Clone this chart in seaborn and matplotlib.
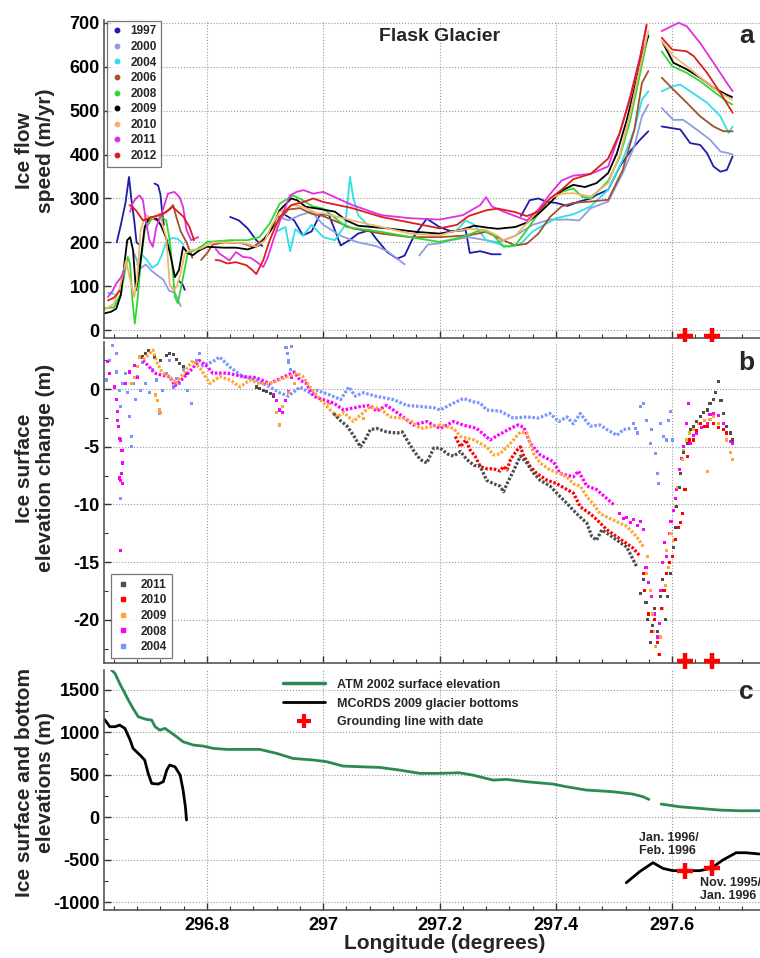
import numpy as np
import pandas as pd
import seaborn as sns
import matplotlib
matplotlib.use('Agg')
from matplotlib import pyplot as plt
from matplotlib.lines import Line2D
from matplotlib.ticker import MultipleLocator, FuncFormatter

nan = np.nan

# ---------------- panel a: ice flow speed (m/yr), NaN = gap ----------------
lon_1997 = [296.645, 296.652, 296.660, 296.666, 296.670, 296.675, 296.679, 296.684, nan,
            296.710, 296.716, 296.720, 296.723, 296.726, nan,
            296.752, 296.758, 296.762, nan,
            296.84, 296.855, 296.87, 296.885, 296.895, nan,
            296.935, 296.95, 296.965, 296.98, 296.995, 297.01, 297.02, 297.03, 297.045, 297.06, 297.08,
            297.09, 297.11, 297.127, 297.14, 297.155, 297.178, 297.20, 297.22, 297.245, 297.252, 297.27,
            297.29, 297.305, nan,
            297.34, 297.355, 297.37, 297.385, 297.40, 297.42, 297.44, 297.46, 297.47, 297.49, 297.51,
            297.53, 297.545, 297.559, nan,
            297.582, 297.60, 297.614, 297.631, 297.648, 297.66, 297.671, 297.683, 297.694, 297.704]
spd_1997 = [200, 240, 290, 349, 300, 250, 200, 195, nan,
            334, 330, 310, 270, 240, nan,
            112, 105, 92, nan,
            258, 250, 232, 205, 192, nan,
            262, 250, 216, 225, 265, 262, 228, 193, 205, 220, 228,
            210, 178, 163, 170, 212, 254, 235, 225, 228, 176, 180,
            173, 173, nan,
            260, 296, 300, 292, 290, 283, 293, 300, 308, 320, 373,
            411, 434, 453, nan,
            464, 460, 457, 426, 422, 403, 373, 361, 365, 396]

lon_2000 = [296.675, 296.685, 296.695, 296.705, 296.715, 296.725, 296.735, 296.745, 296.755, nan,
            296.92, 296.94, 296.96, 296.98, 297.0, 297.03, 297.06, 297.09, 297.11, 297.13, 297.14, nan,
            297.165, 297.18, 297.20, 297.22, 297.25, 297.28, 297.30, 297.33, 297.36, 297.39, 297.42,
            297.44, 297.46, 297.49, 297.515, 297.535, 297.548, 297.559, nan,
            297.582, 297.602, 297.619, 297.642, 297.665, 297.683, 297.697, 297.704]
spd_2000 = [175, 140, 150, 135, 125, 115, 90, 85, 55, nan,
            260, 250, 262, 270, 240, 215, 200, 192, 180, 160, 150, nan,
            170, 195, 198, 205, 212, 205, 200, 215, 240, 252, 252,
            250, 278, 293, 358, 419, 487, 514, nan,
            506, 479, 479, 457, 434, 407, 403, 400]

lon_2004 = [296.630, 296.640, nan,
            296.680, 296.688, 296.697, 296.706, 296.715, 296.722, 296.730, 296.740, 296.750, 296.760, nan,
            296.92, 296.935, 296.943, 296.952, 296.965, 296.98, 297.0, 297.02, 297.038, 297.046, 297.052,
            297.06, 297.08, nan,
            297.23, 297.245, 297.26, 297.28, 297.30, 297.32, 297.34, 297.36, 297.38, 297.40, 297.43,
            297.46, 297.49, 297.515, 297.535, 297.548, 297.559, nan,
            297.582, 297.602, 297.614, 297.631, 297.66, 297.683, 297.697, 297.704]
spd_2004 = [85, 83, nan,
            150, 172, 160, 142, 150, 170, 200, 210, 208, 195, nan,
            225, 235, 180, 230, 215, 240, 212, 205, 240, 349, 300,
            262, 235, nan,
            228, 250, 240, 205, 197, 190, 197, 225, 240, 255, 264,
            282, 320, 388, 457, 525, 544, nan,
            544, 556, 559, 544, 518, 487, 449, 464]

lon_2006 = [296.695, 296.705, 296.715, 296.725, 296.735, 296.742, 296.748, 296.755, 296.765, 296.775, nan,
            296.79, 296.80, 296.81, 296.83, 296.86, 296.88, 296.90, 296.92, 296.94, 296.96, 296.98, 297.0,
            297.05, 297.10, 297.15, 297.20, 297.25, 297.28, 297.31, 297.33, 297.35, 297.37, 297.39, 297.41,
            297.43, 297.46, 297.49, 297.515, 297.535, 297.548, 297.559, nan,
            297.582, 297.602, 297.625, 297.648, 297.671, 297.688, 297.704]
spd_2006 = [245, 255, 250, 265, 275, 285, 255, 225, 200, 165, nan,
            160, 175, 195, 200, 198, 190, 210, 245, 275, 278, 265, 260,
            232, 220, 212, 212, 216, 224, 205, 193, 197, 220, 258, 282,
            290, 293, 297, 365, 457, 563, 590, nan,
            575, 548, 518, 487, 464, 453, 453]

lon_2008 = [296.622, 296.640, 296.652, 296.660, 296.664, 296.668, 296.672, 296.676, 296.680, 296.686,
            296.693, 296.707, 296.718, 296.730, 296.736, 296.741, 296.745, 296.750, 296.759, 296.767,
            296.779, 296.793, 296.80, 296.84, 296.87, 296.89, 296.908, 296.925, 296.948, 296.965, 296.982,
            297.0, 297.04, 297.10, 297.15, 297.20, 297.24, 297.27, 297.29, 297.31, 297.33, 297.35, 297.37,
            297.39, 297.41, 297.43, 297.445, 297.46, 297.475, 297.49, 297.51, 297.528, 297.545, 297.559, nan,
            297.582, 297.60, 297.625, 297.648, 297.671, 297.694, 297.703]
spd_2008 = [50, 52, 83, 140, 167, 150, 68, 15, 60, 150,
            228, 258, 262, 250, 205, 137, 76, 61, 121, 175,
            182, 193, 201, 205, 205, 212, 243, 288, 307, 296, 282,
            277, 235, 224, 212, 201, 212, 228, 220, 190, 193, 228, 266,
            300, 315, 323, 304, 300, 320, 340, 395, 479, 586, 673, nan,
            635, 601, 586, 567, 544, 521, 514]

lon_2009 = [296.622, 296.635, 296.644, 296.652, 296.658, 296.663, 296.668, 296.673, 296.678, 296.684,
            296.693, 296.701, 296.713, 296.721, 296.730, 296.738, 296.745, 296.752, 296.759, 296.767,
            296.776, 296.787, 296.80, 296.83, 296.85, 296.87, 296.89, 296.91, 296.925, 296.945, 296.955,
            296.97, 296.99, 297.02, 297.04, 297.06, 297.11, 297.16, 297.20, 297.235, 297.26, 297.28, 297.30,
            297.33, 297.35, 297.37, 297.39, 297.41, 297.43, 297.45, 297.47, 297.49, 297.505, 297.522,
            297.539, 297.551, 297.559, nan,
            297.584, 297.602, 297.625, 297.648, 297.671, 297.694, 297.703]
spd_2009 = [38, 42, 49, 80, 150, 205, 212, 182, 91, 137,
            235, 258, 254, 239, 210, 167, 121, 137, 190, 175,
            171, 182, 190, 188, 188, 184, 193, 228, 273, 300, 296,
            281, 277, 270, 250, 238, 232, 224, 220, 228, 238, 234, 231,
            235, 245, 265, 290, 318, 331, 326, 335, 358, 403, 479,
            571, 639, 670, nan,
            654, 609, 594, 575, 552, 536, 531]

lon_2010 = [296.622, 296.640, 296.649, 296.656, 296.661, 296.667, 296.675, 296.680, 296.686, 296.695,
            296.707, 296.718, 296.730, 296.736, 296.742, 296.748, 296.755, 296.762, 296.772, 296.790,
            296.81, 296.84, 296.868, 296.885, 296.90, 296.91, 296.925, 296.948, 296.965, 296.99, 297.0,
            297.05, 297.10, 297.15, 297.20, 297.22, 297.25, 297.28, 297.30, 297.31, 297.33, 297.35, 297.37,
            297.39, 297.41, 297.43, 297.46, 297.49, 297.51, 297.528, 297.545, 297.559, nan,
            297.582, 297.602, 297.625, 297.66, 297.683, 297.703]
spd_2010 = [45, 60, 91, 130, 159, 120, 76, 114, 228, 262,
            254, 266, 212, 106, 91, 99, 130, 175, 182, 186,
            200, 200, 197, 190, 205, 235, 269, 285, 281, 266, 266,
            250, 235, 220, 216, 224, 231, 228, 215, 205, 215, 243, 273,
            300, 311, 312, 304, 335, 400, 495, 601, 681, nan,
            658, 624, 601, 563, 540, 525]

lon_2011 = [296.630, 296.638, 296.644, 296.652, 296.658, nan,
            296.668, 296.672, 296.678, 296.684, 296.690, 296.695, 296.701, 296.707, 296.713, 296.724,
            296.733, 296.744, 296.753, 296.759, 296.765, 296.773, 296.785, nan,
            296.815, 296.822, 296.839, 296.850, 296.862, 296.875, 296.885, 296.897, 296.905, 296.914,
            296.928, 296.943, 296.954, 296.966, 296.983, 297.0, 297.05, 297.10, 297.15, 297.20, 297.24,
            297.27, 297.28, 297.29, 297.31, 297.33, 297.35, 297.37, 297.39, 297.41, 297.43, 297.46, 297.49,
            297.51, 297.528, 297.545, 297.556, nan,
            297.582, 297.611, 297.625, 297.648, 297.671, 297.694, 297.704]
spd_2011 = [76, 90, 106, 120, 137, nan,
            270, 288, 300, 307, 296, 250, 205, 190, 235, 273,
            311, 315, 303, 281, 228, 205, 212, nan,
            185, 174, 159, 178, 167, 165, 156, 144, 167, 205,
            258, 307, 315, 319, 311, 315, 285, 262, 255, 252, 262,
            285, 303, 282, 270, 260, 250, 275, 310, 341, 352, 356, 373,
            449, 533, 624, 692, nan,
            681, 700, 692, 654, 609, 563, 544]

lon_2012 = [296.630, 296.640, 296.650, nan,
            296.667, 296.672, 296.678, 296.690, 296.700, 296.707, 296.718, 296.730, 296.741, 296.750,
            296.760, 296.770, 296.778, nan,
            296.815, 296.822, 296.835, 296.85, 296.868, 296.878, 296.885, 296.897, 296.908, 296.925,
            296.945, 296.966, 296.983, 297.0, 297.05, 297.10, 297.15, 297.20, 297.23, 297.25, 297.28,
            297.30, 297.33, 297.35, 297.37, 297.39, 297.41, 297.43, 297.46, 297.49, 297.51, 297.528,
            297.545, 297.556, nan,
            297.582, 297.60, 297.625, 297.637, 297.66, 297.683, 297.704]
spd_2012 = [68, 74, 90, nan,
            285, 281, 273, 250, 255, 258, 262, 269, 281, 270,
            258, 235, 205, nan,
            160, 159, 152, 155, 148, 137, 128, 160, 205, 258,
            285, 292, 300, 292, 278, 258, 245, 232, 240, 260, 273,
            277, 269, 260, 270, 300, 320, 344, 356, 391, 450, 530,
            620, 696, nan,
            666, 639, 635, 624, 586, 540, 495]

spd_years = ['1997', '2000', '2004', '2006', '2008', '2009', '2010', '2011', '2012']
spd_colors = ['#1c1ca8', '#8e9ce0', '#2fe0e6', '#a0522d', '#2ed82e', '#000000', '#f2b46a', '#e030e0', '#e01c1c']

# ---------------- panel b: surface elevation change (m) ----------------
# dense tracks
trk_lon_2004 = [296.79, 296.81, 296.822, 296.84, 296.862, 296.885, 296.908, 296.925, 296.94, 296.96,
                296.977, 296.99, 297.012, 297.03, 297.044, 297.055, 297.069, 297.09, 297.121, 297.144,
                297.167, 297.19, 297.201, 297.224, 297.241, 297.259, 297.27, 297.281, 297.304, 297.327,
                297.35, 297.37, 297.39, 297.405, 297.419, 297.43, 297.442, 297.459, 297.476, 297.488,
                297.505, 297.516, 297.528]
trk_dh_2004 = [2.0, 2.4, 2.8, 1.9, 1.1, 0.8, 0.2, -0.3, -0.6, 0.2,
               -0.3, -0.1, -0.5, -0.9, 0.2, -0.6, -0.3, -0.6, -0.9, -1.4,
               -1.5, -1.6, -1.8, -1.2, -0.8, -1.1, -1.2, -1.8, -1.9, -2.5,
               -2.4, -2.5, -2.1, -2.8, -2.4, -3.0, -2.1, -3.2, -3.1, -3.5,
               -4.0, -3.5, -3.4]
trk_lon_2008 = [296.69, 296.70, 296.71, 296.724, 296.736, 296.745, 296.76, 296.775, 296.787, 296.80,
                296.81, 296.835, 296.862, 296.885, 296.908, 296.95, 296.96, 296.971, 296.983, 297.0,
                297.018, 297.035, 297.064, 297.08, 297.092, 297.109, 297.132, 297.155, 297.178, 297.201,
                297.224, 297.24, 297.264, 297.287, 297.30, 297.322, 297.335, 297.345, 297.356, 297.373,
                297.396, 297.407, 297.43, 297.439, 297.453, 297.47, 297.488, 297.499]
trk_dh_2008 = [2.5, 2.0, 1.4, 1.2, 1.1, 0.3, 1.0, 1.8, 2.5, 2.0,
               1.4, 1.4, 1.1, 1.0, 0.5, 1.5, 0.8, 0.5, -0.6, -0.9,
               -1.2, -1.8, -1.5, -1.4, -1.9, -1.4, -2.2, -3.1, -2.8, -3.4,
               -2.8, -3.1, -3.4, -4.4, -4.0, -3.4, -3.1, -3.3, -4.7, -5.7,
               -6.3, -7.3, -7.6, -7.1, -8.4, -8.7, -9.5, -10.0]
trk_lon_2009 = [296.69, 296.70, 296.707, 296.715, 296.724, 296.736, 296.747, 296.764, 296.776, 296.79,
                296.805, 296.822, 296.84, 296.857, 296.874, 296.89, 296.908, 296.955, 296.965, 296.977,
                296.995, 297.012, 297.024, 297.035, 297.052, 297.065, 297.081, 297.098, 297.115, 297.135,
                297.15, 297.167, 297.18, 297.201, 297.224, 297.236, 297.259, 297.281, 297.293, 297.304,
                297.316, 297.327, 297.339, 297.35, 297.362, 297.373, 297.39, 297.407, 297.419, 297.43,
                297.442, 297.453, 297.465, 297.476, 297.488, 297.505, 297.522, 297.539, 297.551]
trk_dh_2009 = [2.6, 3.0, 3.4, 2.2, 1.4, 1.1, 0.5, 1.7, 2.5, 1.7,
               0.5, 1.1, 0.8, 0.2, 0.8, 0.5, 0.5, 1.4, 1.1, 0.2,
               -0.9, -1.8, -2.4, -2.0, -2.8, -2.2, -1.5, -1.7, -2.4, -2.5,
               -2.7, -3.4, -3.3, -3.1, -3.4, -4.1, -4.4, -5.0, -5.7, -5.6,
               -5.0, -4.4, -3.7, -3.8, -5.6, -6.4, -7.0, -7.3, -7.6, -8.2,
               -8.4, -9.3, -10.0, -10.8, -11.1, -11.5, -11.9, -12.8, -13.7]
trk_lon_2010 = [297.227, 297.236, 297.245, 297.253, 297.261, 297.27, 297.281, 297.293, 297.304, 297.31,
                297.316, 297.322, 297.333, 297.339, 297.345, 297.356, 297.367, 297.385, 297.402, 297.419,
                297.43, 297.442, 297.459, 297.47, 297.488, 297.505, 297.522, 297.533, 297.545]
trk_dh_2010 = [-4.1, -5.0, -4.4, -5.3, -5.8, -6.7, -6.9, -6.9, -7.1, -6.7,
               -7.0, -6.1, -5.3, -5.0, -5.8, -6.7, -7.3, -7.9, -8.2, -8.7,
               -9.0, -10.2, -10.8, -11.3, -12.2, -12.8, -13.4, -13.8, -14.5]
trk_lon_2011 = [297.018, 297.029, 297.041, 297.052, 297.064, 297.072, 297.081, 297.092, 297.109, 297.127,
                297.136, 297.144, 297.155, 297.167, 297.178, 297.19, 297.201, 297.213, 297.224, 297.236,
                297.247, 297.259, 297.27, 297.281, 297.293, 297.304, 297.31, 297.316, 297.327, 297.339,
                297.35, 297.362, 297.373, 297.39, 297.407, 297.419, 297.43, 297.442, 297.453, 297.462,
                297.47, 297.479, 297.488, 297.505, 297.522, 297.539]
trk_dh_2011 = [-2.1, -2.7, -3.2, -4.0, -5.0, -4.4, -3.5, -3.4, -3.7, -3.8,
               -3.7, -4.4, -5.3, -6.1, -6.4, -5.1, -5.1, -5.6, -5.8, -5.4,
               -6.1, -6.6, -6.7, -7.9, -8.2, -8.4, -8.9, -8.2, -7.1, -5.8,
               -6.4, -7.3, -7.9, -8.4, -9.3, -9.9, -10.5, -11.1, -11.6, -12.8,
               -13.1, -12.2, -12.5, -13.1, -13.7, -15.4]

# loose points
pts_lon_2004 = [296.627, 296.632, 296.638, 296.644, 296.645, 296.649, 296.652, 296.651, 296.655, 296.660,
                296.663, 296.667, 296.670, 296.671, 296.674, 296.677, 296.680, 296.686, 296.689, 296.695,
                296.701, 296.707, 296.713, 296.718, 296.724, 296.730, 296.736, 296.742, 296.747, 296.753,
                296.759, 296.767, 296.773, 296.782, 296.787, 296.936, 296.939, 296.941, 296.943, 296.945,
                296.940, 297.533, 297.537, 297.541, 297.545, 297.550, 297.556, 297.562, 297.565, 297.571,
                297.574, 297.576, 297.580, 297.585, 297.591, 297.594, 297.597, 297.600]
pts_dh_2004 = [0.8, 2.5, 3.8, 3.1, 1.5, -0.1, -1.5, -9.5, 0.5, 1.4,
               -0.3, -2.4, -4.1, -5.0, 0.5, -0.9, 1.1, -0.1, 2.3, 0.5,
               -0.3, 1.7, 0.8, -2.1, -0.1, 1.4, 2.5, 0.2, 0.9, 0.5,
               1.7, -0.1, -1.2, 2.5, 3.1, 3.6, 3.1, 2.5, 1.7, 3.7,
               2.3, -3.0, -3.4, -3.8, -1.5, -1.2, -2.7, -4.7, -3.5, -5.6,
               -7.3, -8.2, -3.0, -4.1, -4.4, -2.7, -1.9, -4.4]
pts_lon_2008 = [296.629, 296.632, 296.641, 296.644, 296.646, 296.647, 296.648, 296.649, 296.650, 296.651,
                296.652, 296.653, 296.654, 296.655, 296.655, 296.651, 296.660, 296.667, 296.675, 296.680,
                296.915, 296.920, 296.925, 296.930, 296.935, 296.940, 296.945,
                297.510, 297.516, 297.522, 297.528, 297.533, 297.540, 297.545, 297.550, 297.555, 297.560,
                297.565, 297.570, 297.574, 297.578, 297.580, 297.583, 297.587, 297.590, 297.595, 297.598,
                297.602, 297.605, 297.608, 297.612, 297.616, 297.620, 297.625, 297.628, 297.632, 297.637,
                297.642, 297.650, 297.660, 297.665, 297.671, 297.680, 297.688, 297.694, 297.700, 297.703]
pts_dh_2008 = [2.4, 1.4, 0.2, -0.9, -1.9, -2.7, -3.2, -4.3, -7.7, -7.9,
               -4.4, -7.3, -5.3, -8.2, -6.4, -14.0, 0.5, 1.5, 2.1, 1.0,
               -0.5, -1.0, -1.8, -2.0, -1.0, -0.2, 1.0,
               -10.8, -11.2, -11.1, -11.6, -11.3, -11.8, -11.5, -12.2, -15.5, -16.8,
               -18.0, -19.5, -21.5, -20.3, -17.5, -15.0, -13.3, -14.5, -12.5, -11.5,
               -10.5, -9.5, -8.7, -7.0, -6.0, -5.0, -3.0, -1.2, -4.7, -4.0,
               -3.8, -3.3, -3.0, -2.2, -2.1, -2.3, -3.0, -3.8, -4.5, -4.7]
pts_lon_2009 = [296.670, 296.675, 296.680, 296.685, 296.712, 296.715, 296.718, 296.720,
                296.920, 296.925, 296.930, 296.940, 296.950, 297.010, 297.070,
                297.556, 297.558, 297.562, 297.566, 297.568, 297.572, 297.576, 297.580, 297.584, 297.588,
                297.590, 297.594, 297.598, 297.602, 297.606, 297.610, 297.614, 297.618, 297.620, 297.624,
                297.630, 297.637, 297.645, 297.655, 297.660, 297.665, 297.671, 297.680, 297.688, 297.694,
                297.700, 297.703]
pts_dh_2009 = [0.5, 1.0, 2.0, 2.8, -0.5, -1.0, -1.8, -2.0,
               -2.0, -3.1, -1.5, -0.3, 0.5, -1.2, -2.5,
               -16.0, -14.5, -17.5, -19.5, -21.0, -22.3, -23.0, -21.5, -19.0, -17.0,
               -14.0, -15.5, -12.5, -13.1, -10.2, -8.5, -7.3, -6.1, -5.3, -4.4,
               -3.8, -3.5, -3.0, -2.7, -7.1, -2.6, -2.4, -3.0, -3.5, -4.4,
               -5.5, -6.1]
pts_lon_2010 = [297.550, 297.552, 297.556, 297.560, 297.565, 297.570, 297.574, 297.578, 297.582, 297.586,
                297.590, 297.595, 297.600, 297.605, 297.610, 297.614, 297.618, 297.622, 297.626, 297.630,
                297.636, 297.642, 297.648, 297.655, 297.660, 297.671, 297.680, 297.688, 297.694, 297.703]
pts_dh_2010 = [-16.0, -17.5, -18.5, -19.5, -21.0, -20.0, -22.0, -23.0, -19.0, -17.5,
               -16.0, -15.0, -14.5, -13.0, -12.0, -11.6, -10.8, -8.7, -5.8, -4.4,
               -4.4, -3.6, -3.0, -3.2, -3.2, -3.0, -3.3, -3.5, -3.8, -4.4]
pts_lon_2011 = [296.690, 296.695, 296.700, 296.710, 296.720, 296.730, 296.736, 296.742, 296.748, 296.753,
                296.760, 296.765, 296.885, 296.891, 296.897, 296.903, 296.910, 296.915,
                297.545, 297.550, 297.555, 297.558, 297.562, 297.566, 297.570, 297.575, 297.580, 297.584,
                297.588, 297.592, 297.597, 297.602, 297.606, 297.608, 297.612, 297.614, 297.620, 297.626,
                297.632, 297.637, 297.642, 297.648, 297.654, 297.660, 297.665, 297.671, 297.675, 297.680,
                297.684, 297.688, 297.694, 297.700, 297.703]
pts_dh_2011 = [2.8, 3.1, 3.4, 2.8, 2.5, 2.9, 3.1, 3.0, 2.6, 2.2,
               2.0, 1.4, 0.2, 0.1, -0.1, -0.2, -0.4, -0.6,
               -17.7, -16.5, -18.5, -20.0, -22.0, -20.5, -19.0, -21.0, -18.0, -16.5,
               -20.0, -18.0, -16.0, -13.7, -12.0, -10.2, -8.5, -7.3, -5.5, -4.7,
               -3.5, -3.2, -2.8, -2.4, -2.0, -1.8, -1.2, -0.9, -0.3, 0.7,
               -1.0, -2.1, -3.2, -3.8, -4.4]

dh_years = ['2011', '2010', '2009', '2008', '2004']
dh_colors = ['#4d4d4d', '#ff0000', '#ffa533', '#ff00ff', '#7896ff']

# ---------------- panel c: surface and bed elevation (m) ----------------
atm_lon = [296.636, 296.642, 296.650, 296.659, 296.665, 296.673, 296.682, 296.696, 296.705, 296.711,
           296.719, 296.728, 296.736, 296.748, 296.759, 296.777, 296.794, 296.811, 296.834, 296.868,
           296.891, 296.92, 296.948, 296.983, 297.006, 297.034, 297.063, 297.097, 297.131, 297.166,
           297.20, 297.234, 297.257, 297.292, 297.315, 297.349, 297.395, 297.418, 297.452, 297.498,
           297.532, 297.55, 297.56, nan,
           297.581, 297.613, 297.647, 297.682, 297.716, 297.75]
atm_elev = [1733, 1694, 1576, 1459, 1380, 1282, 1184, 1153, 1145, 1067,
            1027, 1047, 1008, 949, 890, 851, 839, 812, 800, 800,
            800, 753, 694, 675, 655, 604, 596, 588, 557, 518,
            518, 525, 498, 439, 447, 420, 392, 361, 322, 302,
            275, 243, 212, nan,
            157, 125, 106, 86, 78, 78]
bed_lon = [296.622, 296.627, 296.633, 296.642, 296.650, 296.659, 296.668, 296.673, 296.685, 296.693,
           296.699, 296.705, 296.716, 296.725, 296.731, 296.736, 296.745, 296.754, 296.759, 296.763,
           296.765, nan,
           297.521, 297.544, 297.567, 297.584, 297.601, 297.621, 297.647, 297.667, 297.687, 297.71,
           297.727, 297.75]
bed_elev = [1165, 1125, 1067, 1067, 1086, 1047, 910, 812, 733, 675,
            518, 400, 392, 420, 557, 616, 596, 498, 322, 125,
            -31, nan,
            -769, -639, -533, -600, -627, -627, -627, -600, -502, -416,
            -416, -431]
gl_lon = [297.622, 297.668]
gl_elev = [-627, -600]
gl_dates = ['Jan. 1996/\nFeb. 1996', 'Nov. 1995/\nJan. 1996']


def to_frame(names, xs_list, ys_list):
    rows = []
    for name, xs, ys in zip(names, xs_list, ys_list):
        seg = 0
        for x, y in zip(xs, ys):
            if np.isnan(x):
                seg += 1
                continue
            rows.append((name, f'{name}-{seg}', x, y))
    return pd.DataFrame(rows, columns=['year', 'seg', 'lon', 'val'])


spd_df = to_frame(spd_years,
                  [lon_1997, lon_2000, lon_2004, lon_2006, lon_2008, lon_2009, lon_2010, lon_2011, lon_2012],
                  [spd_1997, spd_2000, spd_2004, spd_2006, spd_2008, spd_2009, spd_2010, spd_2011, spd_2012])
trk_df = to_frame(['2004', '2008', '2009', '2010', '2011'],
                  [trk_lon_2004, trk_lon_2008, trk_lon_2009, trk_lon_2010, trk_lon_2011],
                  [trk_dh_2004, trk_dh_2008, trk_dh_2009, trk_dh_2010, trk_dh_2011])
pts_df = to_frame(['2004', '2008', '2009', '2010', '2011'],
                  [pts_lon_2004, pts_lon_2008, pts_lon_2009, pts_lon_2010, pts_lon_2011],
                  [pts_dh_2004, pts_dh_2008, pts_dh_2009, pts_dh_2010, pts_dh_2011])
elev_df = to_frame(['ATM', 'MCoRDS'], [atm_lon, bed_lon], [atm_elev, bed_elev])

# ---------------- style ----------------
sns.set_theme(style='ticks')
plt.rcParams['font.family'] = ['Liberation Sans', 'DejaVu Sans']
plt.rcParams['font.weight'] = 'bold'
plt.rcParams['axes.labelweight'] = 'bold'
plt.rcParams['axes.unicode_minus'] = False

fig = plt.figure(figsize=(7.6, 9.58), dpi=100)
ax_a = fig.add_axes([0.1368, 0.647, 0.8632, 0.332])
ax_b = fig.add_axes([0.1368, 0.308, 0.8632, 0.335])
ax_c = fig.add_axes([0.1368, 0.050, 0.8632, 0.2505])

xlim = (296.623, 297.751)
spd_pal = dict(zip(spd_years, spd_colors))
dh_pal = dict(zip(dh_years, dh_colors))

# panel a
sns.lineplot(data=spd_df, x='lon', y='val', hue='year', units='seg', estimator=None, sort=False,
             palette=spd_pal, hue_order=spd_years, linewidth=1.3, legend=False, ax=ax_a)
ax_a.set_ylim(-18, 706)
ax_a.set_yticks(range(0, 701, 100))

# panel b
draw_order = ['2004', '2008', '2009', '2010', '2011']
sns.lineplot(data=trk_df, x='lon', y='val', hue='year', units='seg', estimator=None, sort=False,
             palette=dh_pal, hue_order=draw_order, linewidth=2.3, linestyle=(0, (0.8, 0.55)),
             legend=False, ax=ax_b)
sns.scatterplot(data=pts_df, x='lon', y='val', hue='year', palette=dh_pal, hue_order=draw_order,
                s=5, marker='s', linewidth=0, legend=False, ax=ax_b)
ax_b.set_ylim(-23.75, 4.1)
ax_b.set_yticks([0, -5, -10, -15, -20])
ax_b.yaxis.set_minor_locator(MultipleLocator(2.5))

# panel c
sns.lineplot(data=elev_df, x='lon', y='val', hue='year', units='seg', estimator=None, sort=False,
             palette={'ATM': '#2a8a52', 'MCoRDS': '#000000'}, linewidth=2.0, legend=False, ax=ax_c)
sns.scatterplot(x=gl_lon, y=gl_elev, marker='+', s=120, color='red', linewidth=3.2, zorder=5, ax=ax_c)
ax_c.set_ylim(-1091, 1733)
ax_c.set_yticks([-1000, -500, 0, 500, 1000, 1500])
ax_c.yaxis.set_minor_locator(MultipleLocator(250))
for x, y, t in zip(gl_lon, gl_elev, gl_dates):
    if t.startswith('Jan'):
        ax_c.text(x - 0.079, -170, t, fontsize=9, fontweight='bold', ha='left', va='top', linespacing=1.15)
    else:
        ax_c.text(x - 0.02, -700, t, fontsize=9, fontweight='bold', ha='left', va='top', linespacing=1.15)

# grounding line crosses along the bottom of panels a and b
sns.scatterplot(x=gl_lon, y=[-12, -12], marker='+', s=120, color='red', linewidth=3.2,
                zorder=5, clip_on=False, ax=ax_a)
sns.scatterplot(x=gl_lon, y=[-23.6, -23.6], marker='+', s=120, color='red', linewidth=3.2,
                zorder=5, clip_on=False, ax=ax_b)

for ax in (ax_a, ax_b, ax_c):
    ax.set_xlim(*xlim)
    ax.xaxis.set_major_locator(MultipleLocator(0.2))
    ax.xaxis.set_minor_locator(MultipleLocator(0.04))
    ax.grid(True, which='major', linestyle=':', color='#9a9a9a', linewidth=0.8)
    ax.tick_params(which='major', direction='in', length=5, width=1, labelsize=13, pad=3,
                   colors='#333333', labelcolor='black')
    ax.tick_params(which='minor', direction='in', length=3, width=0.8, colors='#333333')
    for side in ('top', 'right'):
        ax.spines[side].set_visible(False)
    for side in ('left', 'bottom'):
        ax.spines[side].set_color('#555555')
        ax.spines[side].set_linewidth(1.2)
    ax.set_xlabel('')
    for lbl in ax.get_yticklabels():
        lbl.set_fontweight('bold')

ax_a.tick_params(axis='x', labelbottom=False)
ax_b.tick_params(axis='x', labelbottom=False)
ax_c.xaxis.set_major_formatter(FuncFormatter(lambda v, p: f'{v:g}'))
ax_c.tick_params(axis='x', pad=5)
for lbl in ax_c.get_xticklabels():
    lbl.set_fontweight('bold')

ax_a.set_ylabel('Ice flow\nspeed (m/yr)', fontsize=15, fontweight='bold', linespacing=1.1)
ax_b.set_ylabel('Ice surface\nelevation change (m)', fontsize=15, fontweight='bold', linespacing=1.1)
ax_c.set_ylabel('Ice surface and bottom\nelevations (m)', fontsize=15, fontweight='bold', linespacing=1.1)
ax_a.yaxis.set_label_coords(-0.075, 0.59)
ax_b.yaxis.set_label_coords(-0.075, 0.607)
ax_c.yaxis.set_label_coords(-0.075, 0.533)
ax_c.set_xlabel('Longitude (degrees)', fontsize=15, fontweight='bold')
ax_c.xaxis.set_label_coords(0.52, -0.1)

ax_a.text(0.511, 0.947, 'Flask Glacier', transform=ax_a.transAxes, fontsize=14, fontweight='bold',
          ha='center', va='center')
ax_a.text(0.979, 0.950, 'a', transform=ax_a.transAxes, fontsize=19, fontweight='bold', ha='center', va='center')
ax_b.text(0.979, 0.935, 'b', transform=ax_b.transAxes, fontsize=19, fontweight='bold', ha='center', va='center')
ax_c.text(0.979, 0.908, 'c', transform=ax_c.transAxes, fontsize=19, fontweight='bold', ha='center', va='center')

# legends
h_a = [Line2D([], [], marker='o', ls='none', color=c, markersize=3.2) for c in spd_colors]
leg_a = ax_a.legend(h_a, spd_years, loc='upper left', bbox_to_anchor=(0.004, 0.998), borderaxespad=0,
                    frameon=True, fancybox=False, edgecolor='#555555', handlelength=0.9,
                    handletextpad=0.7, labelspacing=0.3, borderpad=0.4, prop={'weight': 'bold', 'size': 8.5})
leg_a.get_frame().set_linewidth(0.9)

h_b = [Line2D([], [], marker='s', ls='none', color=c, markersize=3.0) for c in dh_colors]
leg_b = ax_b.legend(h_b, dh_years, loc='lower left', bbox_to_anchor=(0.011, 0.016), borderaxespad=0,
                    frameon=True, fancybox=False, edgecolor='#555555', handlelength=1.2,
                    handletextpad=0.9, labelspacing=0.3, borderpad=0.4, prop={'weight': 'bold', 'size': 8.5})
leg_b.get_frame().set_linewidth(0.9)

h_c = [Line2D([], [], color='#2a8a52', lw=2.5),
       Line2D([], [], color='black', lw=2.0),
       Line2D([], [], marker='+', ls='none', color='red', markersize=10, markeredgewidth=3)]
leg_c = ax_c.legend(h_c, ['ATM 2002 surface elevation', 'MCoRDS 2009 glacier bottoms', 'Grounding line with date'],
                    loc='upper left', bbox_to_anchor=(0.265, 0.985), borderaxespad=0, frameon=False,
                    handlelength=3.4, handletextpad=0.9, labelspacing=0.55, prop={'weight': 'bold', 'size': 9})

fig.savefig('out.png', dpi=100)
plt.close(fig)
